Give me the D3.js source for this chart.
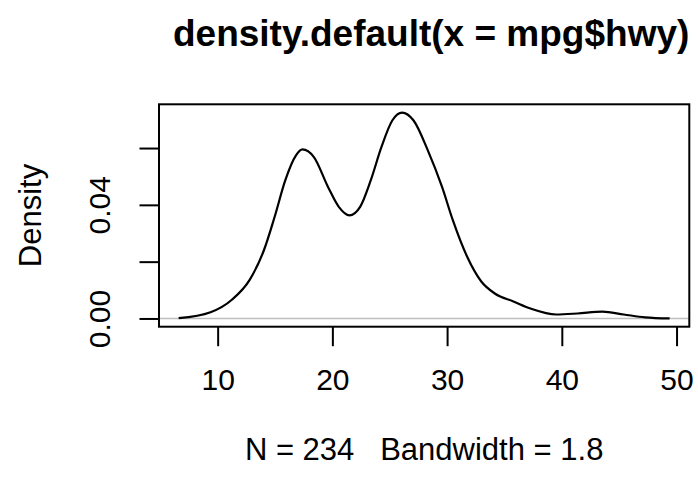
<!DOCTYPE html>
<html>
<head>
<meta charset="utf-8">
<script src="https://cdn.jsdelivr.net/npm/d3@7"></script>
<style>
  body { margin: 0; background: #fff; }
  svg text { font-family: "Liberation Sans", Arial, Helvetica, sans-serif; fill: #000; white-space: pre; }
</style>
</head>
<body>
<svg id="chart" width="698" height="481"></svg>
<script>
// density estimate of mpg$hwy
var densX = [6.6, 9.38, 11.24, 12.79, 14.04, 14.97, 15.9, 16.83, 17.39, 18.39, 19.62, 20.56,
             21.49, 22.42, 23.35, 24.28, 25.22, 26.08, 27.08, 28.32, 29.56, 30.5, 31.74, 32.98,
             34.19, 35.78, 37.33, 39.5, 41.36, 43.53, 45.4, 47.26, 49.4];
var densY = [0.0001, 0.0022, 0.0066, 0.0136, 0.0241, 0.0358, 0.0487, 0.0574, 0.0595, 0.0568, 0.0463, 0.0393,
             0.0363, 0.0393, 0.0487, 0.0604, 0.0697, 0.0725, 0.0697, 0.0592, 0.0463, 0.0346, 0.0218, 0.0130,
             0.0087, 0.0060, 0.0034, 0.0014, 0.00175, 0.0024, 0.0014, 0.0004, 0.0000];

var xTicks = [10, 20, 30, 40, 50];
var xTickLabels = ["10", "20", "30", "40", "50"];
var yTicks = [0, 0.02, 0.04, 0.06];
var yTickLabels = ["0.00", "", "0.04", ""];   // R drops the labels that would overlap

var titleText = "density.default(x = mpg$hwy)";
var subText = "N = 234   Bandwidth = 1.8";
var yLabel = "Density";

// plot region (R's usr box)
var pLeft = 159, pRight = 689.3, pTop = 104.3, pBottom = 326.7;

var svg = d3.select("#chart");

// R pads the data range by 4% on each side
var xr = d3.extent(densX), xpad = (xr[1] - xr[0]) * 0.04;
var x = d3.scaleLinear().domain([xr[0] - xpad, xr[1] + xpad]).range([pLeft, pRight]);
var ymax = d3.max(densY), ypad = ymax * 0.04;
var y = d3.scaleLinear().domain([-ypad, ymax + ypad]).range([pBottom, pTop]);

// zero reference line
svg.append("line")
   .attr("x1", pLeft).attr("x2", pRight)
   .attr("y1", y(0)).attr("y2", y(0))
   .attr("stroke", "#bebebe")
   .attr("stroke-width", 1.5);

var lineData = densX.map(function(d, i) { return {x: d, y: densY[i]}; });

var lineFunction = d3.line()
                     .curve(d3.curveMonotoneX)
                     .x(function(d) { return x(d.x); })
                     .y(function(d) { return y(d.y); });

svg.append("path")
   .attr("d", lineFunction(lineData))
   .attr("fill", "none")
   .attr("stroke", "#000")
   .attr("stroke-width", 2.2);

// axes
var xAxis = svg.append("g")
   .attr("transform", "translate(0," + pBottom + ")")
   .call(d3.axisBottom(x).tickValues(xTicks)
          .tickFormat(function(d, i) { return xTickLabels[i]; })
          .tickSize(19.5));
xAxis.select(".domain").remove();
xAxis.selectAll("line").attr("stroke", "#000").attr("stroke-width", 2);
xAxis.selectAll("text")
     .attr("font-size", 30)
     .attr("dy", 0)
     .attr("y", 63);

var yAxis = svg.append("g")
   .attr("transform", "translate(" + pLeft + ",0)")
   .call(d3.axisLeft(y).tickValues(yTicks)
          .tickFormat(function(d, i) { return yTickLabels[i]; })
          .tickSize(19.5));
yAxis.select(".domain").remove();
yAxis.selectAll("line").attr("stroke", "#000").attr("stroke-width", 2);
yAxis.selectAll("text")
     .attr("font-size", 30)
     .attr("text-anchor", "middle")
     .attr("transform", "rotate(-90)")
     .attr("x", 0)
     .attr("dy", 0)
     .attr("y", -49);

// box
svg.append("rect")
   .attr("x", pLeft).attr("y", pTop)
   .attr("width", pRight - pLeft).attr("height", pBottom - pTop)
   .attr("fill", "none")
   .attr("stroke", "#000")
   .attr("stroke-width", 2);

// titles
var cx = (pLeft + pRight) / 2;
svg.append("text")
   .attr("x", cx + 7).attr("y", 46)
   .attr("text-anchor", "middle")
   .attr("font-size", 37)
   .attr("font-weight", "bold")
   .text(titleText);

svg.append("text")
   .attr("x", cx).attr("y", 460)
   .attr("text-anchor", "middle")
   .attr("font-size", 31)
   .text(subText);

svg.append("text")
   .attr("transform", "translate(41," + ((pTop + pBottom) / 2) + ") rotate(-90)")
   .attr("text-anchor", "middle")
   .attr("font-size", 31)
   .text(yLabel);
</script>
</body>
</html>
